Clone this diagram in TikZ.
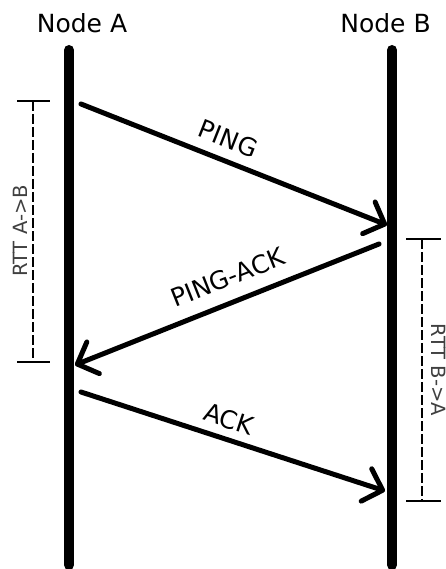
\documentclass[tikz,border=0pt]{standalone}
\usepackage{fontspec}
\setmainfont{DejaVu Sans}
\usetikzlibrary{arrows.meta}
\begin{document}
\begin{tikzpicture}[x=1pt,y=-1pt,
  lifeline/.style={line width=10pt, line cap=round},
  msg/.style={line width=5pt, line cap=round, -{Straight Barb[length=17pt,width=34pt,round]}},
  msglabel/.style={font=\fontsize{25}{30}\selectfont, inner sep=0pt, sloped},
  rtt/.style={line width=2pt, dash pattern=on 10pt off 3pt},
  rtttick/.style={line width=2.5pt},
  rttlabel/.style={font=\fontsize{19.6}{23}\selectfont, text=black!75, inner sep=0pt},
  title/.style={font=\fontsize{25}{30}\selectfont, inner sep=0pt, anchor=base}]
\useasboundingbox (0,0) rectangle (445,569);
\fill[white] (0,0) rectangle (445,569);
% titles
\node[title] (titleA) at (82,33) {Node A};
\node[title] (titleB) at (385.5,33) {Node B};
% lifelines
\coordinate (A0) at (69,50);
\coordinate (A1) at (69,565);
\coordinate (B0) at (392,50);
\coordinate (B1) at (392,565);
\draw[lifeline] (A0) -- (A1);
\draw[lifeline] (B0) -- (B1);
% messages
\coordinate (ping0) at (81,104);
\coordinate (ping1) at (387,225);
\coordinate (pack0) at (379,244);
\coordinate (pack1) at (75,365);
\coordinate (ack0) at (81,392);
\coordinate (ack1) at (385,491);
\draw[msg] (ping0) -- node[msglabel, pos=0.455, above=10pt] (lping) {PING} (ping1);
\draw[msg] (pack0) -- node[msglabel, pos=0.467, above=13pt] (lpack) {PING-ACK} (pack1);
\draw[msg] (ack0) -- node[msglabel, pos=0.466, above=8pt] (lack) {ACK} (ack1);
% RTT A->B
\coordinate (ra0) at (33,101);
\coordinate (ra1) at (33,362);
\coordinate (ra0l) at (17,101);
\coordinate (ra0r) at (50,101);
\coordinate (ra1l) at (17,362);
\coordinate (ra1r) at (50,362);
\draw[rtt] (ra0) -- (ra1);
\draw[rtttick] (ra0l) -- (ra0r);
\draw[rtttick] (ra1l) -- (ra1r);
\node[rttlabel, rotate=90] (lrtta) at (20,231) {RTT A->B};
% RTT B->A
\coordinate (rb0) at (422,239);
\coordinate (rb1) at (422,501);
\coordinate (rb0l) at (406,239);
\coordinate (rb0r) at (441,239);
\coordinate (rb1l) at (406,501);
\coordinate (rb1r) at (441,501);
\draw[rtt] (rb0) -- (rb1);
\draw[rtttick] (rb0l) -- (rb0r);
\draw[rtttick] (rb1l) -- (rb1r);
\node[rttlabel, rotate=-90] (lrttb) at (439,370) {RTT B->A};
\end{tikzpicture}
\end{document}
